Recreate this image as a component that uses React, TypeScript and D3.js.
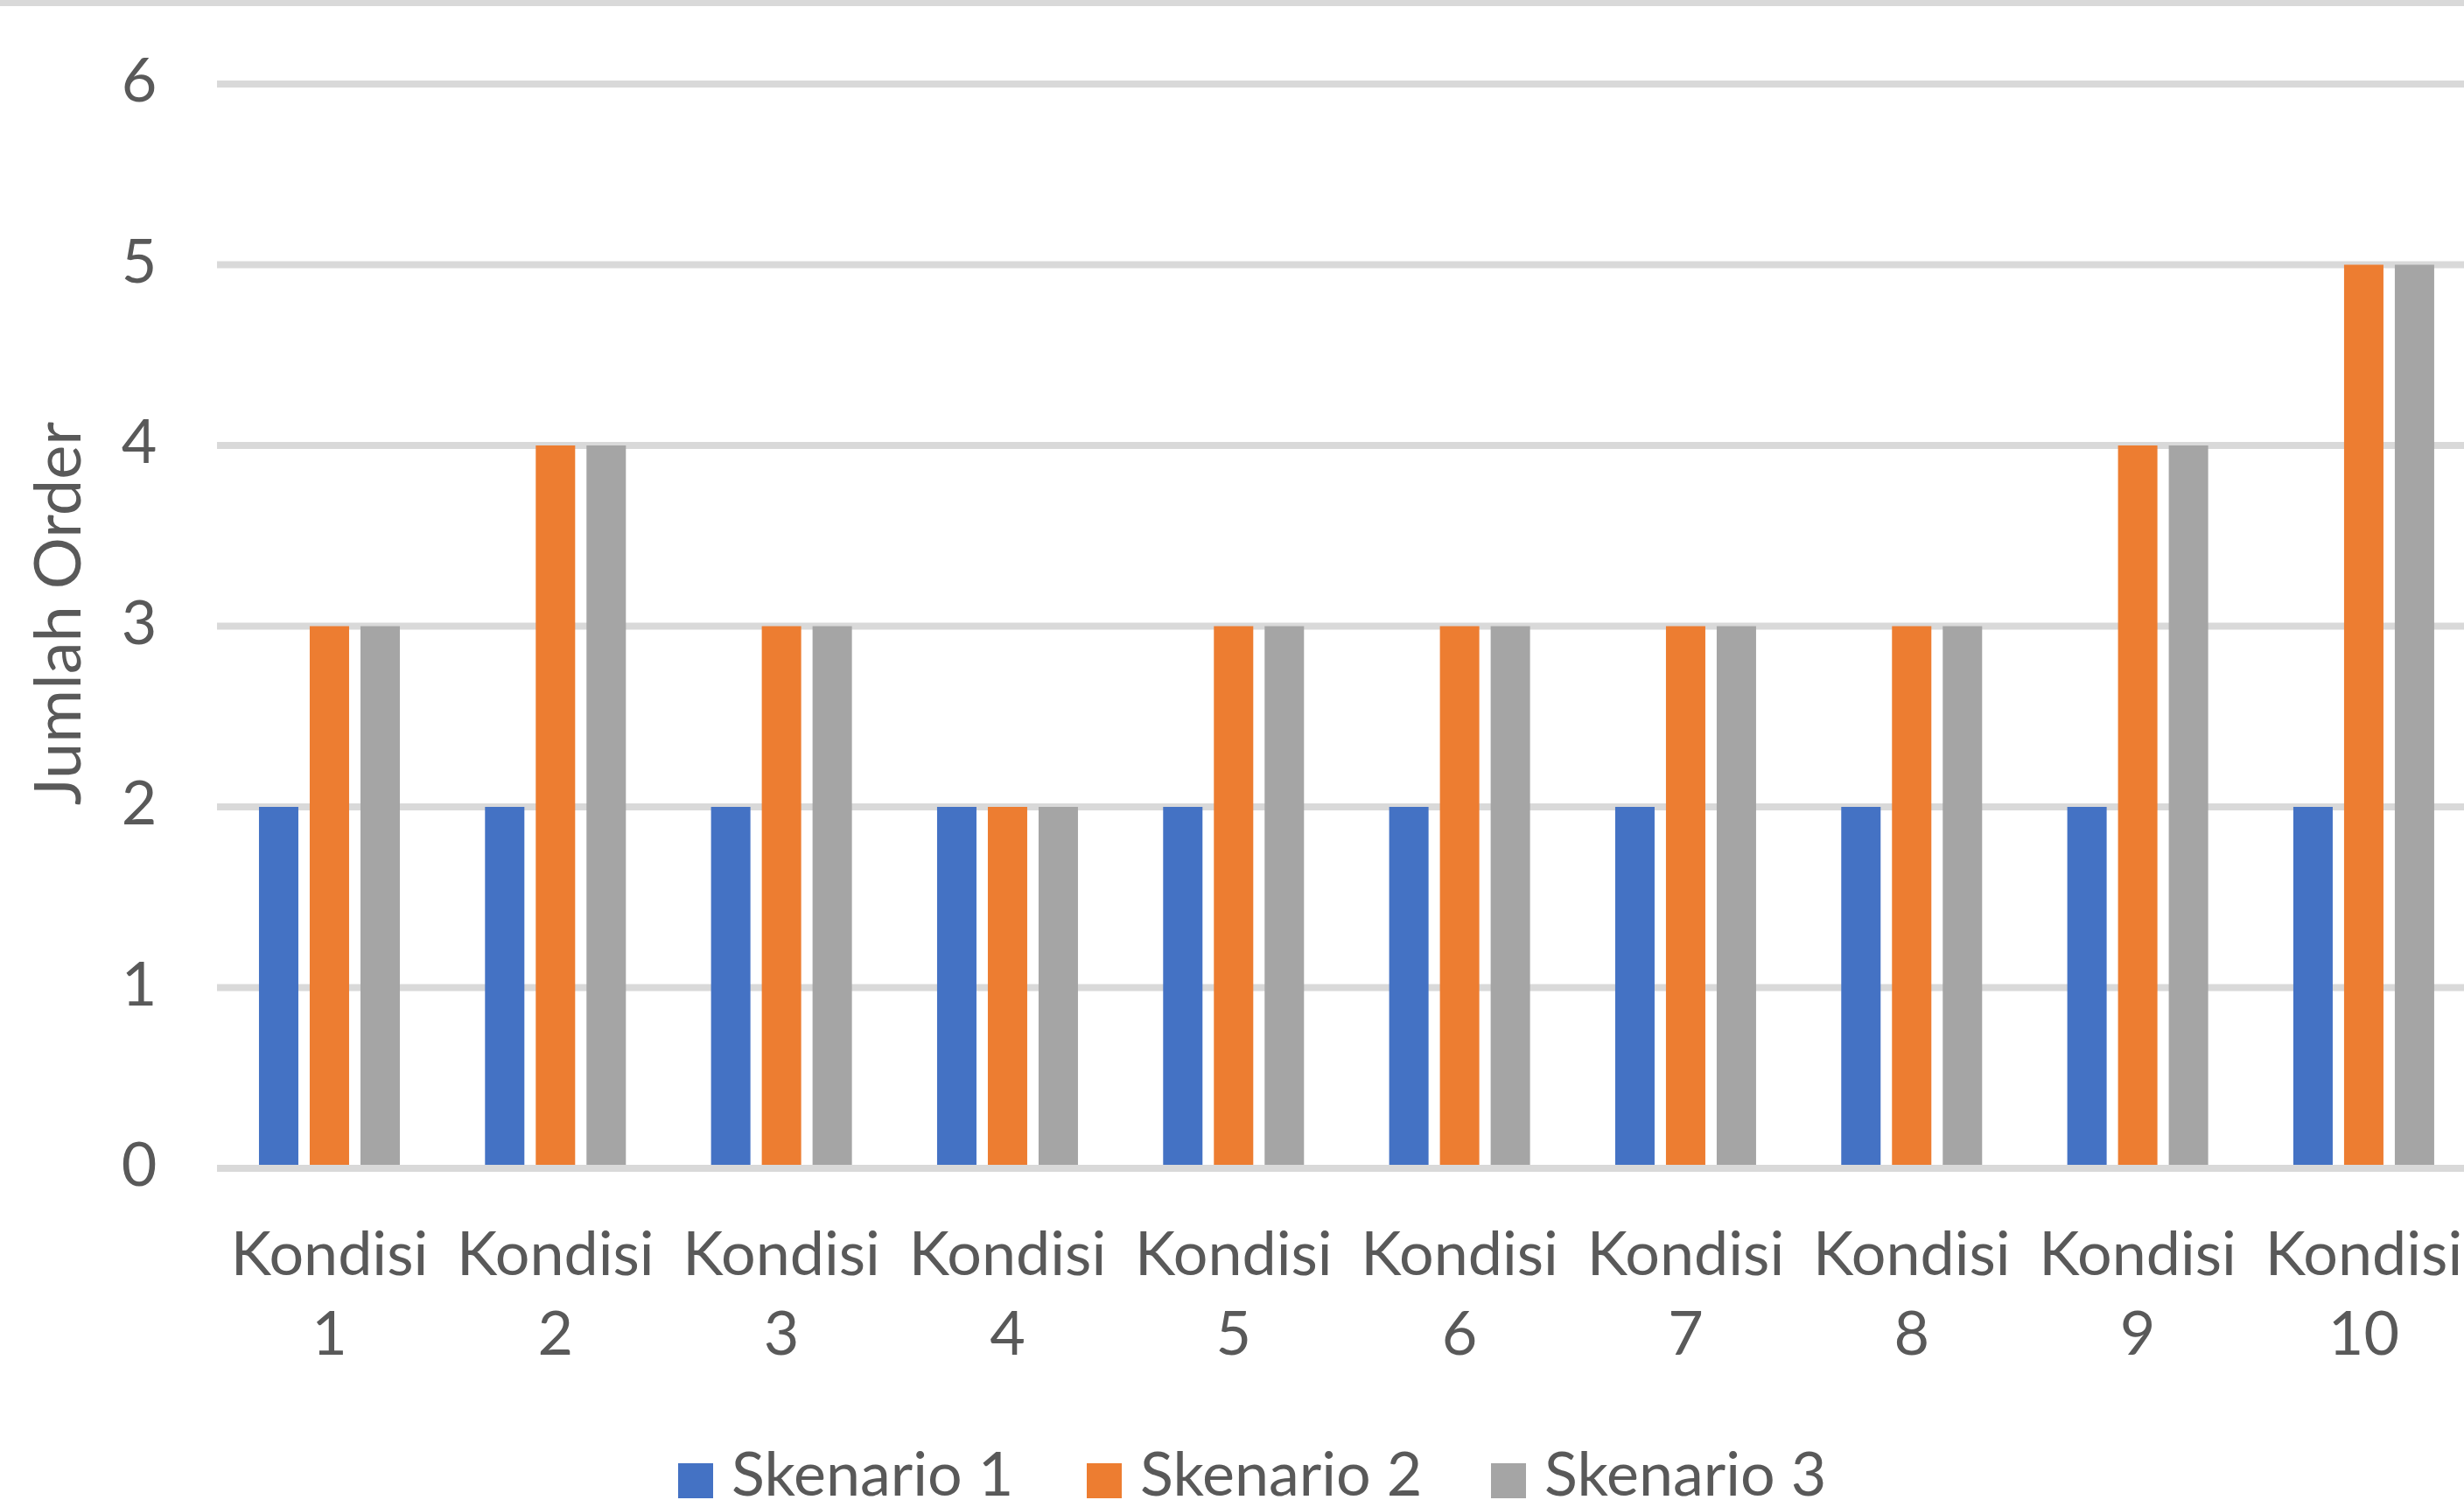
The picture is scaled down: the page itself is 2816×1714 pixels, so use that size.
import React from "react";
import * as d3 from "d3";

const categories = ["1", "2", "3", "4", "5", "6", "7", "8", "9", "10"];
const seriesNames = ["Skenario 1", "Skenario 2", "Skenario 3"];
const skenario1 = [2, 2, 2, 2, 2, 2, 2, 2, 2, 2];
const skenario2 = [3, 4, 3, 2, 3, 3, 3, 3, 4, 5];
const skenario3 = [3, 4, 3, 2, 3, 3, 3, 3, 4, 5];
const yTicks = [0, 1, 2, 3, 4, 5, 6];
const colors = ["#4472C4", "#ED7D31", "#A5A5A5"];

const W = 2816;
const H = 1714;
const FONT = "Lato, 'Open Sans', sans-serif";
const TEXT = "#595959";
const GRID = "#D9D9D9";

export default function App() {
  const seriesValues = [skenario1, skenario2, skenario3];
  const plotLeft = 247.3;
  const step = 258.33;
  const x = d3
    .scaleBand<string>()
    .domain(categories)
    .range([plotLeft, plotLeft + step * categories.length])
    .paddingInner(0)
    .paddingOuter(0);
  const groupW = 161;
  const xs = d3
    .scaleBand<string>()
    .domain(seriesNames)
    .range([0, groupW])
    .paddingInner(0.224)
    .paddingOuter(0);
  const y = d3.scaleLinear().domain([0, 6]).range([1335, 96]);

  const legendX = [775, 1242, 1704];

  return (
    <div style={{ position: "fixed", left: 0, top: 0, width: W, height: H, background: "#fff" }}>
      <svg width={W} height={H} style={{ display: "block" }} fontFamily={FONT}>
        <rect x={0} y={0} width={W} height={H} fill="#fff" />
        <rect x={0} y={0} width={W} height={7} fill={GRID} />
        {yTicks
          .filter((t) => t !== 0)
          .map((t) => (
            <line key={"g" + t} x1={248} x2={W + 20} y1={y(t)} y2={y(t)} stroke={GRID} strokeWidth={8} />
          ))}
        {categories.map((c, i) => {
          const cx = (x(c) as number) + x.bandwidth() / 2;
          const gx = cx - groupW / 2;
          return (
            <g key={"bars" + c}>
              {seriesNames.map((s, k) => (
                <rect
                  key={s}
                  x={gx + (xs(s) as number)}
                  y={y(seriesValues[k][i])}
                  width={xs.bandwidth()}
                  height={y(0) - y(seriesValues[k][i])}
                  fill={colors[k]}
                />
              ))}
            </g>
          );
        })}
        <line x1={248} x2={W + 20} y1={y(0)} y2={y(0)} stroke={GRID} strokeWidth={8} />
        {yTicks.map((t) => (
          <text key={"t" + t} x={159} y={y(t) + 20} textAnchor="middle" fontSize={70} fill={TEXT}>
            {t}
          </text>
        ))}
        {categories.map((c) => {
          const cx = (x(c) as number) + x.bandwidth() / 2;
          return (
            <g key={"lab" + c}>
              <text x={cx} y={1457} textAnchor="middle" fontSize={70} fill={TEXT}>
                Kondisi
              </text>
              <text x={cx} y={1548} textAnchor="middle" fontSize={70} fill={TEXT}>
                {c}
              </text>
            </g>
          );
        })}
        <text
          transform={`translate(92,701) rotate(-90)`}
          textAnchor="middle"
          fontSize={74}
          fill={TEXT}
        >
          Jumlah Order
        </text>
        {seriesNames.map((s, k) => (
          <g key={"leg" + s}>
            <rect x={legendX[k]} y={1672} width={40} height={40} fill={colors[k]} />
            <text x={legendX[k] + 61} y={1709} fontSize={70} fill={TEXT}>
              {s}
            </text>
          </g>
        ))}
      </svg>
    </div>
  );
}
